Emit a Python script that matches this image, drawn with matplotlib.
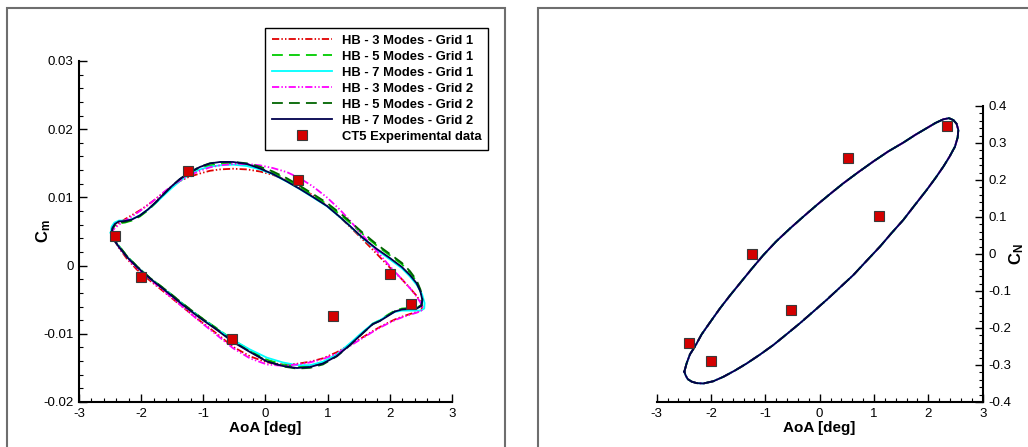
import matplotlib
matplotlib.use('Agg')
import matplotlib.pyplot as plt
from matplotlib.patches import Rectangle
from matplotlib.ticker import MultipleLocator, FormatStrFormatter

plt.rcParams['font.family'] = ['Liberation Sans', 'DejaVu Sans']
plt.rcParams['axes.unicode_minus'] = False
plt.rcParams['mathtext.fontset'] = 'custom'
plt.rcParams['mathtext.bf'] = 'Liberation Sans:bold'
plt.rcParams['mathtext.rm'] = 'Liberation Sans'

# ---- Cm loop (AoA shared by the HB curves) ----
aoa_cm = [-2.477, -2.461, -2.421, -2.357, -2.260, -2.148, -2.019, -1.890, -1.761, -1.633,
          -1.504, -1.375, -1.231, -1.054, -0.893, -0.732, -0.523, -0.298, -0.089, 0.120,
          0.346, 0.555, 0.764, 0.989, 1.198, 1.359, 1.568, 1.793, 2.002, 2.195,
          2.324, 2.429, 2.493, 2.525, 2.509,
          2.437, 2.324, 2.195, 2.083, 1.970, 1.842, 1.729, 1.568, 1.359, 1.150,
          0.925, 0.716, 0.507, 0.281, 0.024, -0.249, -0.523, -0.780, -1.054, -1.327,
          -1.584, -1.858, -2.067, -2.228, -2.357, -2.437, -2.477]
aoa_cm_7g1 = [-2.490, -2.475, -2.430, -2.357, -2.260, -2.148, -2.019, -1.890, -1.761, -1.633,
              -1.504, -1.375, -1.231, -1.054, -0.893, -0.732, -0.523, -0.298, -0.089, 0.120,
              0.346, 0.555, 0.764, 0.989, 1.198, 1.359, 1.568, 1.793, 2.002, 2.195,
              2.324, 2.440, 2.520, 2.560, 2.555,
              2.500, 2.324, 2.195, 2.083, 1.970, 1.842, 1.729, 1.568, 1.359, 1.150,
              0.925, 0.716, 0.507, 0.281, 0.024, -0.249, -0.523, -0.780, -1.054, -1.327,
              -1.584, -1.858, -2.067, -2.228, -2.357, -2.445, -2.490]

cm_3g1 = [0.0046, 0.0052, 0.0057, 0.0062, 0.0068, 0.0074, 0.0081, 0.0089, 0.0098, 0.0107,
          0.0116, 0.0124, 0.0130, 0.0135, 0.0139, 0.0141, 0.0142, 0.0141, 0.0138, 0.0133,
          0.0125, 0.0115, 0.0103, 0.0088, 0.0071, 0.0057, 0.0038, 0.0017, -0.0003, -0.0020,
          -0.0033, -0.0044, -0.0053, -0.0060, -0.0065,
          -0.0068, -0.0071, -0.0075, -0.0079, -0.0084, -0.0090, -0.0096, -0.0105, -0.0116, -0.0127,
          -0.0136, -0.0141, -0.0144, -0.0145, -0.0142, -0.0133, -0.0119, -0.0100, -0.0081, -0.0061,
          -0.0042, -0.0022, -0.0006, 0.0010, 0.0026, 0.0038, 0.0046]
cm_5g1 = [0.0046, 0.0054, 0.0059, 0.0062, 0.0063, 0.0066, 0.0072, 0.0081, 0.0092, 0.0104,
          0.0116, 0.0126, 0.0135, 0.0143, 0.0147, 0.0149, 0.0150, 0.0148, 0.0143, 0.0136,
          0.0126, 0.0115, 0.0103, 0.0090, 0.0075, 0.0063, 0.0046, 0.0029, 0.0015, 0.0002,
          -0.0010, -0.0023, -0.0037, -0.0050, -0.0058,
          -0.0062, -0.0062, -0.0063, -0.0066, -0.0072, -0.0080, -0.0085, -0.0098, -0.0115, -0.0131,
          -0.0142, -0.0147, -0.0148, -0.0145, -0.0138, -0.0124, -0.0109, -0.0092, -0.0075, -0.0056,
          -0.0037, -0.0018, -0.0001, 0.0014, 0.0029, 0.0038, 0.0046]
cm_7g1 = [0.0048, 0.0057, 0.0063, 0.0066, 0.0066, 0.0068, 0.0074, 0.0082, 0.0092, 0.0103,
          0.0114, 0.0124, 0.0133, 0.0141, 0.0145, 0.0147, 0.0148, 0.0146, 0.0141, 0.0134,
          0.0123, 0.0112, 0.0100, 0.0087, 0.0071, 0.0058, 0.0040, 0.0023, 0.0009, -0.0004,
          -0.0016, -0.0029, -0.0042, -0.0055, -0.0063,
          -0.0066, -0.0066, -0.0066, -0.0068, -0.0073, -0.0080, -0.0085, -0.0097, -0.0114, -0.0130,
          -0.0141, -0.0146, -0.0146, -0.0142, -0.0135, -0.0123, -0.0109, -0.0093, -0.0076, -0.0057,
          -0.0038, -0.0019, -0.0002, 0.0013, 0.0028, 0.0039, 0.0048]
cm_3g2 = [0.0046, 0.0051, 0.0055, 0.0060, 0.0066, 0.0072, 0.0080, 0.0089, 0.0098, 0.0108,
          0.0117, 0.0125, 0.0132, 0.0139, 0.0144, 0.0147, 0.0149, 0.0149, 0.0147, 0.0143,
          0.0137, 0.0128, 0.0116, 0.0100, 0.0082, 0.0066, 0.0044, 0.0021, -0.0001, -0.0020,
          -0.0033, -0.0045, -0.0054, -0.0061, -0.0066,
          -0.0069, -0.0072, -0.0076, -0.0080, -0.0085, -0.0091, -0.0097, -0.0106, -0.0118, -0.0129,
          -0.0137, -0.0142, -0.0145, -0.0147, -0.0145, -0.0136, -0.0121, -0.0102, -0.0082, -0.0061,
          -0.0041, -0.0020, -0.0004, 0.0012, 0.0027, 0.0039, 0.0046]
cm_5g2 = [0.0046, 0.0054, 0.0060, 0.0063, 0.0064, 0.0067, 0.0073, 0.0082, 0.0093, 0.0105,
          0.0117, 0.0127, 0.0136, 0.0145, 0.0150, 0.0152, 0.0152, 0.0150, 0.0145, 0.0138,
          0.0128, 0.0117, 0.0105, 0.0092, 0.0077, 0.0065, 0.0048, 0.0031, 0.0017, 0.0004,
          -0.0008, -0.0021, -0.0035, -0.0049, -0.0058,
          -0.0062, -0.0063, -0.0064, -0.0067, -0.0073, -0.0081, -0.0086, -0.0099, -0.0117, -0.0133,
          -0.0145, -0.0150, -0.0151, -0.0148, -0.0140, -0.0126, -0.0111, -0.0093, -0.0075, -0.0056,
          -0.0037, -0.0018, -0.0001, 0.0014, 0.0029, 0.0038, 0.0046]
cm_7g2 = [0.00463, 0.00551, 0.00610, 0.00647, 0.00654, 0.00676, 0.00735, 0.00823, 0.00933, 0.01050,
          0.01167, 0.01270, 0.01358, 0.01446, 0.01497, 0.01519, 0.01519, 0.01490, 0.01424, 0.01343,
          0.01233, 0.01123, 0.01006, 0.00874, 0.00713, 0.00581, 0.00405, 0.00243, 0.00111, -0.00021,
          -0.00138, -0.00255, -0.00380, -0.00504, -0.00592,
          -0.00629, -0.00636, -0.00644, -0.00673, -0.00739, -0.00812, -0.00856, -0.00988, -0.01164, -0.01326,
          -0.01436, -0.01487, -0.01502, -0.01472, -0.01406, -0.01267, -0.01120, -0.00944, -0.00768, -0.00578,
          -0.00387, -0.00189, -0.00021, 0.00126, 0.00273, 0.00375, 0.00463]

# ---- CN loop (all HB curves sit on top of each other) ----
aoa_cn = [-2.491, -2.448, -2.387, -2.295, -2.172, -2.000, -1.835, -1.650, -1.467, -1.250,
          -1.037, -0.800, -0.546, -0.300, -0.056, 0.190, 0.435, 0.710, 0.987, 1.260,
          1.539, 1.760, 1.969, 2.130, 2.276, 2.380, 2.460, 2.520, 2.552, 2.540,
          2.490, 2.390, 2.276, 2.130, 1.969, 1.750, 1.539, 1.320, 1.110, 0.860,
          0.619, 0.370, 0.128, -0.120, -0.362, -0.610, -0.853, -1.100, -1.344, -1.560,
          -1.774, -1.960, -2.142, -2.264, -2.356, -2.430, -2.467, -2.491]
cn_hb = [-0.318, -0.295, -0.271, -0.250, -0.217, -0.181, -0.147, -0.112, -0.079, -0.040,
         -0.003, 0.034, 0.069, 0.101, 0.132, 0.162, 0.191, 0.221, 0.250, 0.277,
         0.301, 0.322, 0.340, 0.354, 0.364, 0.367, 0.362, 0.352, 0.335, 0.315,
         0.290, 0.263, 0.236, 0.205, 0.173, 0.132, 0.092, 0.056, 0.020, -0.019,
         -0.057, -0.091, -0.124, -0.156, -0.187, -0.217, -0.246, -0.272, -0.296, -0.315,
         -0.332, -0.344, -0.350, -0.349, -0.345, -0.338, -0.328, -0.318]

# ---- CT5 experiment ----
exp_aoa_cm = [-2.416, -2.003, -1.252, -0.544, 0.517, 1.086, 2.008, 2.340]
exp_cm = [0.0044, -0.0017, 0.0138, -0.0108, 0.0126, -0.0074, -0.0013, -0.0056]
exp_aoa_cn = [-2.410, -2.000, -1.246, -0.534, 0.521, 1.092, 2.344]
exp_cn = [-0.241, -0.290, -0.001, -0.151, 0.260, 0.102, 0.345]

labels = ['HB - 3 Modes - Grid 1', 'HB - 5 Modes - Grid 1', 'HB - 7 Modes - Grid 1',
          'HB - 3 Modes - Grid 2', 'HB - 5 Modes - Grid 2', 'HB - 7 Modes - Grid 2']
colors = ['#e00000', '#00cc00', '#00ffff', '#ff00ff', '#006400', '#00004d']
dashdotdot = (0, (4, 1.2, 0.8, 1.2, 0.8, 1.2))
longdash = (0, (6, 3.4))
styles = [dashdotdot, longdash, '-', dashdotdot, longdash, '-']

cm_curves = [(aoa_cm, cm_3g1), (aoa_cm, cm_5g1), (aoa_cm_7g1, cm_7g1),
             (aoa_cm, cm_3g2), (aoa_cm, cm_5g2), (aoa_cm, cm_7g2)]

fig = plt.figure(figsize=(10.28, 4.47), dpi=100)

# panel frames
fig.patches.append(Rectangle((0.0068, -0.05), 0.4845, 1.032, transform=fig.transFigure,
                             fill=False, edgecolor='#6e6e6e', linewidth=1.5))
fig.patches.append(Rectangle((0.5235, -0.05), 0.6, 1.032, transform=fig.transFigure,
                             fill=False, edgecolor='#6e6e6e', linewidth=1.5))

ax1 = fig.add_axes([0.0768, 0.1007, 0.3628, 0.7629])
ax2 = fig.add_axes([0.6388, 0.1007, 0.3171, 0.6622])

handles = []
for (x, y), lab, c, ls in zip(cm_curves, labels, colors, styles):
    h, = ax1.plot(x, y, color=c, linestyle=ls, linewidth=1.3, label=lab)
    handles.append(h)
    ax2.plot(aoa_cn, cn_hb, color=c, linestyle=ls, linewidth=1.3)

mk = dict(linestyle='none', marker='s', markersize=7, markerfacecolor='#d40000',
          markeredgecolor='#3a3a3a', markeredgewidth=0.8, zorder=5)
h, = ax1.plot(exp_aoa_cm, exp_cm, label='CT5 Experimental data', **mk)
handles.append(h)
ax2.plot(exp_aoa_cn, exp_cn, **mk)

for ax in (ax1, ax2):
    ax.set_xlim(-3, 3)
    ax.xaxis.set_major_locator(MultipleLocator(1))
    ax.xaxis.set_minor_locator(MultipleLocator(0.2))
    ax.tick_params(which='major', direction='in', length=6, width=1.0, labelsize=9.5, pad=4)
    ax.tick_params(which='minor', direction='in', length=3, width=0.8)
    ax.spines['top'].set_visible(False)
    for s in ax.spines.values():
        s.set_linewidth(1.5)
    ax.set_xlabel('AoA [deg]', fontsize=11, fontweight='bold', labelpad=1)

ax1.set_ylim(-0.02, 0.03)
ax1.yaxis.set_major_locator(MultipleLocator(0.01))
ax1.yaxis.set_minor_locator(MultipleLocator(0.002))
ax1.yaxis.set_major_formatter(FormatStrFormatter('%g'))
ax1.spines['right'].set_visible(False)
ax1.set_ylabel(r'$\mathbf{C_m}$', fontsize=12)
ax1.yaxis.set_label_coords(-0.07, 0.5)

ax2.set_ylim(-0.4, 0.4)
ax2.yaxis.set_major_locator(MultipleLocator(0.1))
ax2.yaxis.set_minor_locator(MultipleLocator(0.02))
ax2.yaxis.set_major_formatter(FormatStrFormatter('%g'))
ax2.spines['left'].set_visible(False)
ax2.yaxis.tick_right()
ax2.yaxis.set_label_position('right')
ax2.tick_params(axis='y', which='both', left=False, right=True)
ax2.set_ylabel(r'$\mathbf{C_N}$', fontsize=12)
ax2.yaxis.set_label_coords(1.075, 0.5)

leg = ax1.legend(handles=handles, loc='upper right', bbox_to_anchor=(0.4747, 0.9374),
                 bbox_transform=fig.transFigure, prop={'weight': 'bold', 'size': 9.4},
                 handlelength=4.6, handletextpad=0.77, labelspacing=0.3, borderpad=0.5,
                 borderaxespad=0, numpoints=1, fancybox=False, framealpha=1, edgecolor='black')
leg.get_frame().set_linewidth(1.0)

plt.savefig('out.png', dpi=100)
